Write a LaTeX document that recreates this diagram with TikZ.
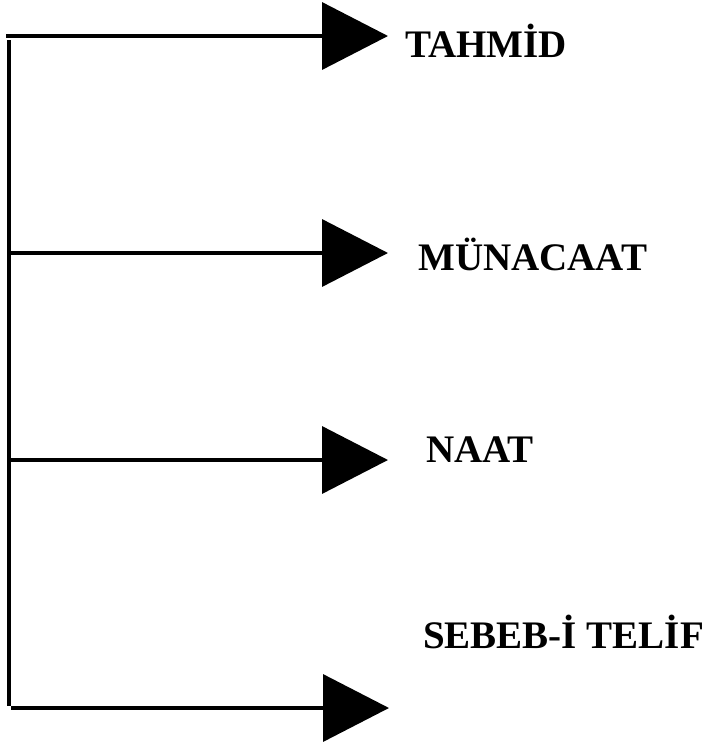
\documentclass[tikz,border=0pt]{standalone}
\usepackage{fontspec}
\setmainfont{Liberation Serif}
\usetikzlibrary{arrows.meta}
\begin{document}
\begin{tikzpicture}[x=1pt,y=-1pt,
  spine/.style={line width=3.6pt},
  branch/.style={line width=3.6pt,-{Triangle[length=66pt,width=67pt]}},
  lbl/.style={anchor=base west,inner sep=0pt,font=\fontsize{39}{42}\selectfont\bfseries}]
\useasboundingbox (0,0) rectangle (709,745);
% spine
\coordinate (top) at (9,40);
\coordinate (bot) at (9,706);
\draw[spine] (top) -- (bot);
% branch starts and tips
\coordinate (s1) at (6,36);   \coordinate (t1) at (388,36);
\coordinate (s2) at (9,253);  \coordinate (t2) at (388,253);
\coordinate (s3) at (9,460);  \coordinate (t3) at (388,460);
\coordinate (s4) at (11,708); \coordinate (t4) at (389,708);
\draw[branch] (s1) -- (t1);
\draw[branch] (s2) -- (t2);
\draw[branch] (s3) -- (t3);
\draw[branch] (s4) -- (t4);
% labels
\node[lbl] (tahmid) at (405,57) {TAHMİD};
\node[lbl] (munacaat) at (418,270) {MÜNACAAT};
\node[lbl] (naat) at (426,462) {NAAT};
\node[lbl] (sebeb) at (423,648) {SEBEB-İ TELİF};
\end{tikzpicture}
\end{document}
